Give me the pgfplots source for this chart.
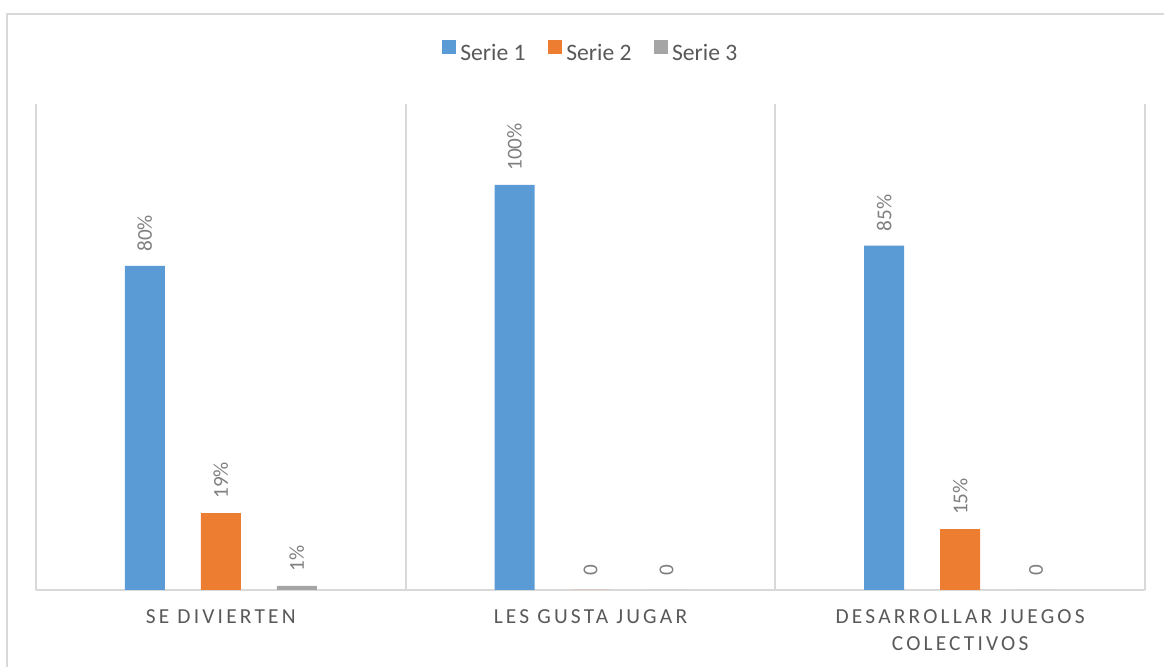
\documentclass[border=0pt]{standalone}
\usepackage{pgfplots}
\pgfplotsset{compat=1.18}
\usepackage{fontspec}
\setmainfont{Carlito}
\newfontfamily\spaced[LetterSpace=15]{Carlito}

\definecolor{s1}{HTML}{5B9BD5}
\definecolor{s2}{HTML}{ED7D31}
\definecolor{s3}{HTML}{A5A5A5}
\definecolor{txt}{HTML}{595959}
\definecolor{lab}{HTML}{808080}
\definecolor{ln}{HTML}{D9D9D9}

\begin{document}
\begin{tikzpicture}
\useasboundingbox (0,0) rectangle (582pt,333.5pt);
% outer chart frame (cropped on right and bottom)
\draw[ln, line width=1pt] (3.5pt,0) -- (3.5pt,326.5pt) -- (582pt,326.5pt);
\begin{axis}[
    at={(18pt,38.5pt)}, anchor=south west,
    scale only axis, width=554.5pt, height=243pt,
    ybar=18pt, bar width=20pt,
    xmin=0, xmax=3, ymin=0, ymax=120,
    enlarge x limits=false, enlarge y limits=false,
    axis x line=bottom, axis y line=none,
    x axis line style={-, ln, line width=1pt},
    ytick=\empty,
    xtick={0,1,2,3}, xticklabels={},
    xmajorgrids, major grid style={ln, line width=1pt},
    major tick length=0pt,
    extra x ticks={0.5,1.5,2.5},
    extra x tick labels={SE DIVIERTEN, LES GUSTA JUGAR, {DESARROLLAR JUEGOS\\COLECTIVOS}},
    extra x tick style={grid=none, major tick length=0pt},
    xticklabel style={font=\spaced\fontsize{10.7}{13.5}\selectfont, text=txt, align=center, anchor=north, yshift=-6.5pt},
    point meta=explicit symbolic,
    nodes near coords,
    every node near coord/.append style={rotate=90, anchor=west, font=\fontsize{10.6}{12}\selectfont, text=lab, inner xsep=7pt},
    legend style={at={(0.501,1.104)}, anchor=center, draw=none, fill=none,
        legend columns=-1, font=\fontsize{11.8}{14}\selectfont, text=txt,
        /tikz/every odd column/.append style={column sep=0.3pt},
        /tikz/every even column/.append style={column sep=9pt}},
    legend image code/.code={\fill[#1] (0pt,-0.3pt) rectangle (7pt,6.7pt);},
]
\addplot[draw=none, fill=s1] coordinates {(0.5,80) [80\%] (1.5,100) [100\%] (2.5,85) [85\%]};
\addplot[draw=none, fill=s2] coordinates {(0.5,19) [19\%] (1.5,0) [0] (2.5,15) [15\%]};
\addplot[draw=none, fill=s3] coordinates {(0.5,1) [1\%] (1.5,0) [0] (2.5,0) [0]};
\legend{Serie 1, Serie 2, Serie 3}
\end{axis}
\end{tikzpicture}
\end{document}
